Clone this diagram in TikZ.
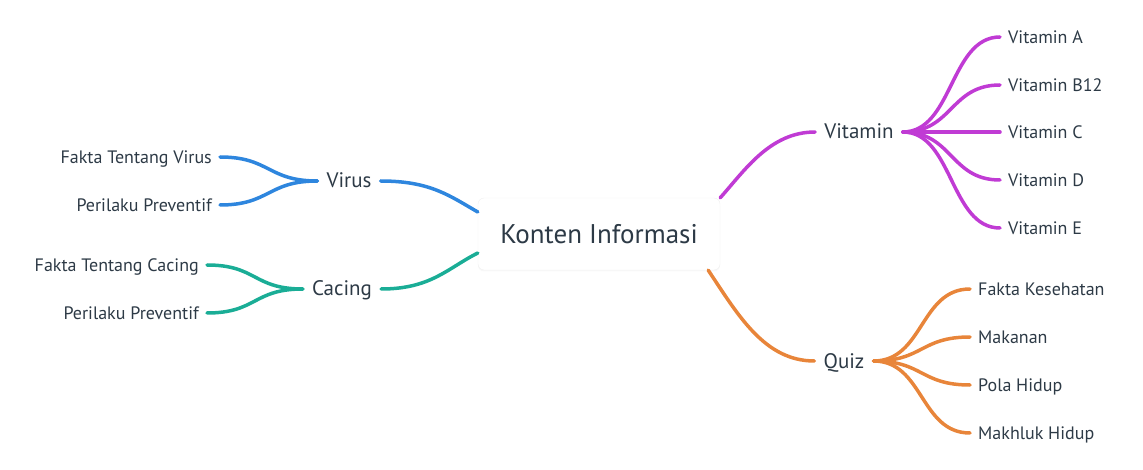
\documentclass[tikz,border=0pt]{standalone}
\usepackage{fontspec}
\setmainfont{PT Sans}
\usetikzlibrary{shadows}

\definecolor{inktext}{RGB}{45,58,70}
\definecolor{virblue}{RGB}{46,134,222}
\definecolor{cacteal}{RGB}{26,173,150}
\definecolor{vitmag}{RGB}{192,59,212}
\definecolor{quizorange}{RGB}{232,133,58}

\tikzset{
  root/.style={rectangle, rounded corners=6pt, fill=white, draw=black!6,
    drop shadow={opacity=0.06, shadow xshift=0pt, shadow yshift=-1.5pt},
    minimum width=242pt, minimum height=72pt, text=inktext,
    font=\fontsize{27}{32}\selectfont},
  topic/.style={inner xsep=9pt, inner ysep=0pt, text height=14pt, text depth=0pt,
    text=inktext, font=\fontsize{21}{25}\selectfont},
  leaf/.style={inner xsep=8pt, inner ysep=0pt, text height=12.5pt, text depth=0pt,
    text=inktext, font=\fontsize{18}{21}\selectfont},
  limb/.style={line width=3.5pt, line cap=round},
  twig/.style={to path={.. controls +(50,0) and +(-50,0) .. (\tikztotarget)}},
  twigleft/.style={to path={.. controls +(-50,0) and +(50,0) .. (\tikztotarget)}},
}

\begin{document}
\begin{tikzpicture}[x=1pt,y=-1pt]
\useasboundingbox (0,0) rectangle (1143,470);

\node[root] (konten) at (599,234) {Konten Informasi};

\node[topic] (virus) at (349,181) {Virus};
\node[topic] (cacing) at (342,289) {Cacing};
\node[topic] (vitamin) at (859,132) {Vitamin};
\node[topic] (quiz) at (844,361) {Quiz};

% left side
\node[leaf, anchor=east] (fvirus) at (220,157) {Fakta Tentang Virus};
\node[leaf, anchor=east] (pvirus) at (220,205) {Perilaku Preventif};
\node[leaf, anchor=east] (fcacing) at (207,265) {Fakta Tentang Cacing};
\node[leaf, anchor=east] (pcacing) at (207,313) {Perilaku Preventif};

% right side
\node[leaf, anchor=west] (vita) at (1000,37) {Vitamin A};
\node[leaf, anchor=west] (vitb) at (1000,85) {Vitamin B12};
\node[leaf, anchor=west] (vitc) at (1000,132) {Vitamin C};
\node[leaf, anchor=west] (vitd) at (1000,180) {Vitamin D};
\node[leaf, anchor=west] (vite) at (1000,228) {Vitamin E};

\node[leaf, anchor=west] (qfakta) at (970,289) {Fakta Kesehatan};
\node[leaf, anchor=west] (qmakan) at (970,337) {Makanan};
\node[leaf, anchor=west] (qpola) at (970,385) {Pola Hidup};
\node[leaf, anchor=west] (qmakhluk) at (970,433) {Makhluk Hidup};

% main branches
\draw[limb, virblue] (virus.east) .. controls +(50,0) and +(-28,-16) .. ([yshift=22pt]konten.west);
\draw[limb, cacteal] (cacing.east) .. controls +(50,0) and +(-30,15) .. ([yshift=-19pt]konten.west);
\draw[limb, vitmag] (konten.north east) .. controls +(25,-28) and +(-45,0) .. (vitamin.west);
\draw[limb, quizorange] ([xshift=-12pt]konten.south east) .. controls +(30,45) and +(-50,0) .. (quiz.west);

% sub branches
\draw[limb, virblue] (virus.west) edge[twigleft] (fvirus.east)
  edge[twigleft] (pvirus.east);
\draw[limb, cacteal] (cacing.west) edge[twigleft] (fcacing.east)
  edge[twigleft] (pcacing.east);
\draw[limb, vitmag] (vitamin.east) edge[twig] (vita.west)
  edge[twig] (vitb.west) edge[twig] (vitc.west)
  edge[twig] (vitd.west) edge[twig] (vite.west);
\draw[limb, quizorange] (quiz.east) edge[twig] (qfakta.west)
  edge[twig] (qmakan.west) edge[twig] (qpola.west)
  edge[twig] (qmakhluk.west);
\end{tikzpicture}
\end{document}
